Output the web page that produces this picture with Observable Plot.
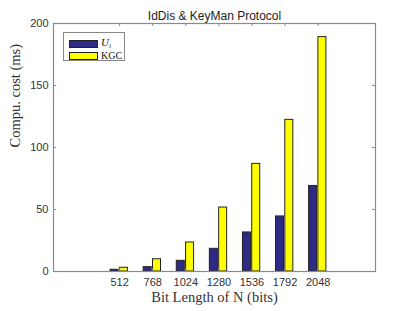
<!DOCTYPE html>
<html>
<head>
<meta charset="utf-8">
<script src="https://cdn.jsdelivr.net/npm/d3@7"></script>
<script src="https://cdn.jsdelivr.net/npm/@observablehq/plot@0.6"></script>
<style>
  html, body { margin: 0; padding: 0; background: #fff; }
  #wrap { position: relative; width: 415px; height: 311px; }
  #legend {
    position: absolute; left: 63px; top: 32px; width: 62px; height: 29px;
    border: 1px solid #888; background: #fff; box-sizing: border-box;
    font-family: "Liberation Serif", serif; font-size: 11px; color: #111;
  }
  .row { position: absolute; left: 5px; height: 9px; display: flex; align-items: center; line-height: 9px; }
  .sw { width: 27px; height: 6px; border: 1px solid #222; box-sizing: content-box; margin-right: 3px; }
</style>
</head>
<body>
<div id="wrap"></div>
<script>
const title = "IdDis & KeyMan Protocol";
const xLabel = "Bit Length of N (bits)";
const yLabel = "Compu. cost (ms)";
const bitLengths = [512, 768, 1024, 1280, 1536, 1792, 2048];
const userCost = [1.4, 3.5, 8.6, 18.3, 31.5, 44.4, 69];
const kgcCost = [3.0, 9.9, 23.4, 51.6, 86.8, 122.3, 189];
const yTicks = [0, 50, 100, 150, 200];
const seriesNames = ["U_i", "KGC"];
const colors = ["#2e2a85", "#ffff00"];

const data = bitLengths.map((n, i) => ({n, u: userCost[i], k: kgcCost[i]}));
const barW = 62, gap = 8;   // bar width and gap in data units of x
const axisColor = "#8a8a8a";
const tickFont = "Liberation Sans, Arial, sans-serif";

const chart = Plot.plot({
  width: 415, height: 311,
  marginLeft: 53, marginRight: 40, marginTop: 23, marginBottom: 40,
  style: {fontFamily: tickFont, fontSize: "11px", color: "#333", background: "#fff"},
  x: {type: "linear", domain: [0, 2492]},
  y: {domain: [0, 200]},
  marks: [
    Plot.rectY(data, {x1: d => d.n - barW - gap, x2: d => d.n - gap, y: "u", fill: colors[0], stroke: "#222", strokeWidth: 1}),
    Plot.rectY(data, {x1: d => d.n + 2, x2: d => d.n + 2 + barW, y: "k", fill: colors[1], stroke: "#222", strokeWidth: 1}),
    Plot.frame({stroke: axisColor, strokeWidth: 1.2}),
    Plot.ruleX(bitLengths, {x: d => d, insetTop: 245, stroke: axisColor}),
    Plot.ruleX(bitLengths, {x: d => d, insetBottom: 245, stroke: axisColor}),
    Plot.ruleY(yTicks, {y: d => d, insetRight: 319, stroke: axisColor}),
    Plot.ruleY(yTicks, {y: d => d, insetLeft: 319, stroke: axisColor}),
    Plot.axisX({ticks: bitLengths, tickSize: 0, tickPadding: 7, tickFormat: d => String(d), label: null, fill: "#333", fontSize: 11}),
    Plot.axisY({ticks: yTicks, tickSize: 0, tickPadding: 5, label: null, fill: "#333", fontSize: 11}),
    Plot.text([title], {frameAnchor: "top", dy: -12, fontSize: 12, fill: "#222", fontFamily: tickFont}),
    Plot.text([xLabel], {frameAnchor: "bottom", dy: 30, fontSize: 14.5, fill: "#333", fontFamily: "Liberation Serif, serif"}),
    Plot.text([yLabel], {frameAnchor: "left", dx: -38, rotate: -90, fontSize: 14.5, fill: "#333", fontFamily: "Liberation Serif, serif"})
  ]
});

const wrap = document.getElementById("wrap");
wrap.appendChild(chart);

const legend = document.createElement("div");
legend.id = "legend";
seriesNames.forEach((name, i) => {
  const row = document.createElement("div");
  row.className = "row";
  row.style.top = (i === 0 ? 6 : 18) + "px";
  const sw = document.createElement("div");
  sw.className = "sw";
  sw.style.background = colors[i];
  row.appendChild(sw);
  const lab = document.createElement("span");
  if (name === "U_i") {
    lab.innerHTML = '<i style="font-size:11px">U</i><i style="font-size:7px;position:relative;top:2px">i</i>';
  } else {
    lab.textContent = name;
    lab.style.fontSize = "10px";
  }
  row.appendChild(lab);
  legend.appendChild(row);
});
wrap.appendChild(legend);
</script>
</body>
</html>
